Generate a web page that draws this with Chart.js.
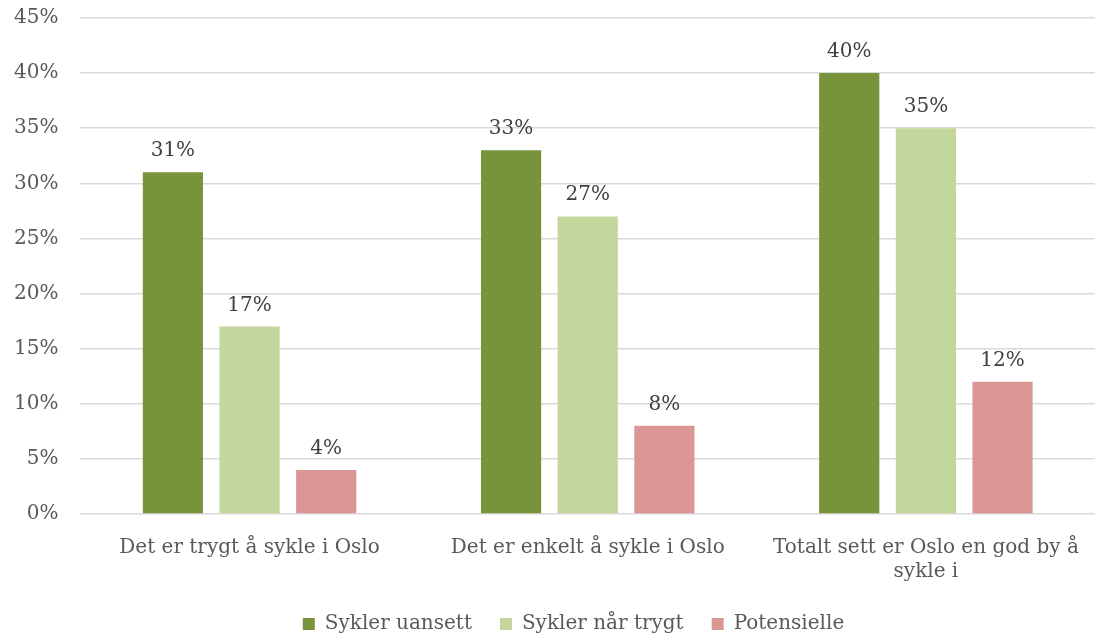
<!DOCTYPE html>
<html>
<head>
<meta charset="utf-8">
<script src="https://cdn.jsdelivr.net/npm/chart.js@4"></script>
<style>
  html, body { margin: 0; padding: 0; background: #fff; overflow: hidden; }
  #wrap { width: 1104px; height: 634px; }
</style>
</head>
<body>
<div id="wrap"><canvas id="graph" width="1104" height="634"></canvas></div>
<script>
var categories = [
    'Det er trygt å sykle i Oslo',
    'Det er enkelt å sykle i Oslo',
    ['Totalt sett er Oslo en god by å', 'sykle i']
];
var seriesNames = ['Sykler uansett', 'Sykler når trygt', 'Potensielle'];
var syklerUansett = [31, 33, 40];
var syklerNaarTrygt = [17, 27, 35];
var potensielle = [4, 8, 12];
var yTicks = [0, 5, 10, 15, 20, 25, 30, 35, 40, 45];

var FONT = 'DejaVu Serif';
var SIZE = 20;

// writes the percentage above every bar
var barValues = {
    id: 'barValues',
    afterDatasetsDraw: function (chart) {
        var ctx = chart.ctx;
        ctx.save();
        ctx.font = SIZE + 'px "' + FONT + '"';
        ctx.fillStyle = '#404040';
        ctx.textAlign = 'center';
        ctx.textBaseline = 'alphabetic';
        chart.data.datasets.forEach(function (ds, i) {
            chart.getDatasetMeta(i).data.forEach(function (bar, j) {
                ctx.fillText(ds.data[j] + '%', bar.x, bar.y - 16);
            });
        });
        ctx.restore();
    }
};

// nudge the legend a bit right, under the plot
var legendShift = {
    id: 'legendShift',
    afterLayout: function (chart) {
        chart.legend.left += 19;
        chart.legend.right += 19;
    }
};

var ctx = document.getElementById('graph').getContext('2d');
var graph = new Chart(ctx, {
    type: 'bar',
    data: {
        labels: categories,
        datasets: [
            { label: seriesNames[0], data: syklerUansett, backgroundColor: '#77933C' },
            { label: seriesNames[1], data: syklerNaarTrygt, backgroundColor: '#C3D69B' },
            { label: seriesNames[2], data: potensielle, backgroundColor: '#D99694' }
        ]
    },
    options: {
        responsive: false,
        animation: false,
        layout: { padding: { top: 18, right: 9, left: 14, bottom: -10 } },
        categoryPercentage: 0.68,
        barPercentage: 0.785,
        plugins: {
            legend: {
                position: 'bottom',
                labels: {
                    boxWidth: 12,
                    boxHeight: 12,
                    padding: 28,
                    color: '#595959',
                    font: { family: FONT, size: SIZE }
                }
            },
            tooltip: { enabled: false }
        },
        scales: {
            x: {
                grid: { display: false },
                border: { display: false },
                afterFit: function (axis) { axis.height -= 12; },
                ticks: {
                    color: '#595959',
                    maxRotation: 0,
                    padding: 14,
                    font: { family: FONT, size: SIZE }
                }
            },
            y: {
                min: 0,
                max: 45,
                afterBuildTicks: function (axis) {
                    axis.ticks = yTicks.map(function (v) { return { value: v }; });
                },
                grid: { color: '#D9D9D9', lineWidth: 1.5, drawTicks: true, tickLength: 22, tickColor: 'rgba(0,0,0,0)' },
                border: { display: false },
                ticks: {
                    color: '#595959',
                    padding: 0,
                    font: { family: FONT, size: SIZE },
                    callback: function (v) { return v + '%'; }
                }
            }
        }
    },
    plugins: [barValues, legendShift]
});
</script>
</body>
</html>
